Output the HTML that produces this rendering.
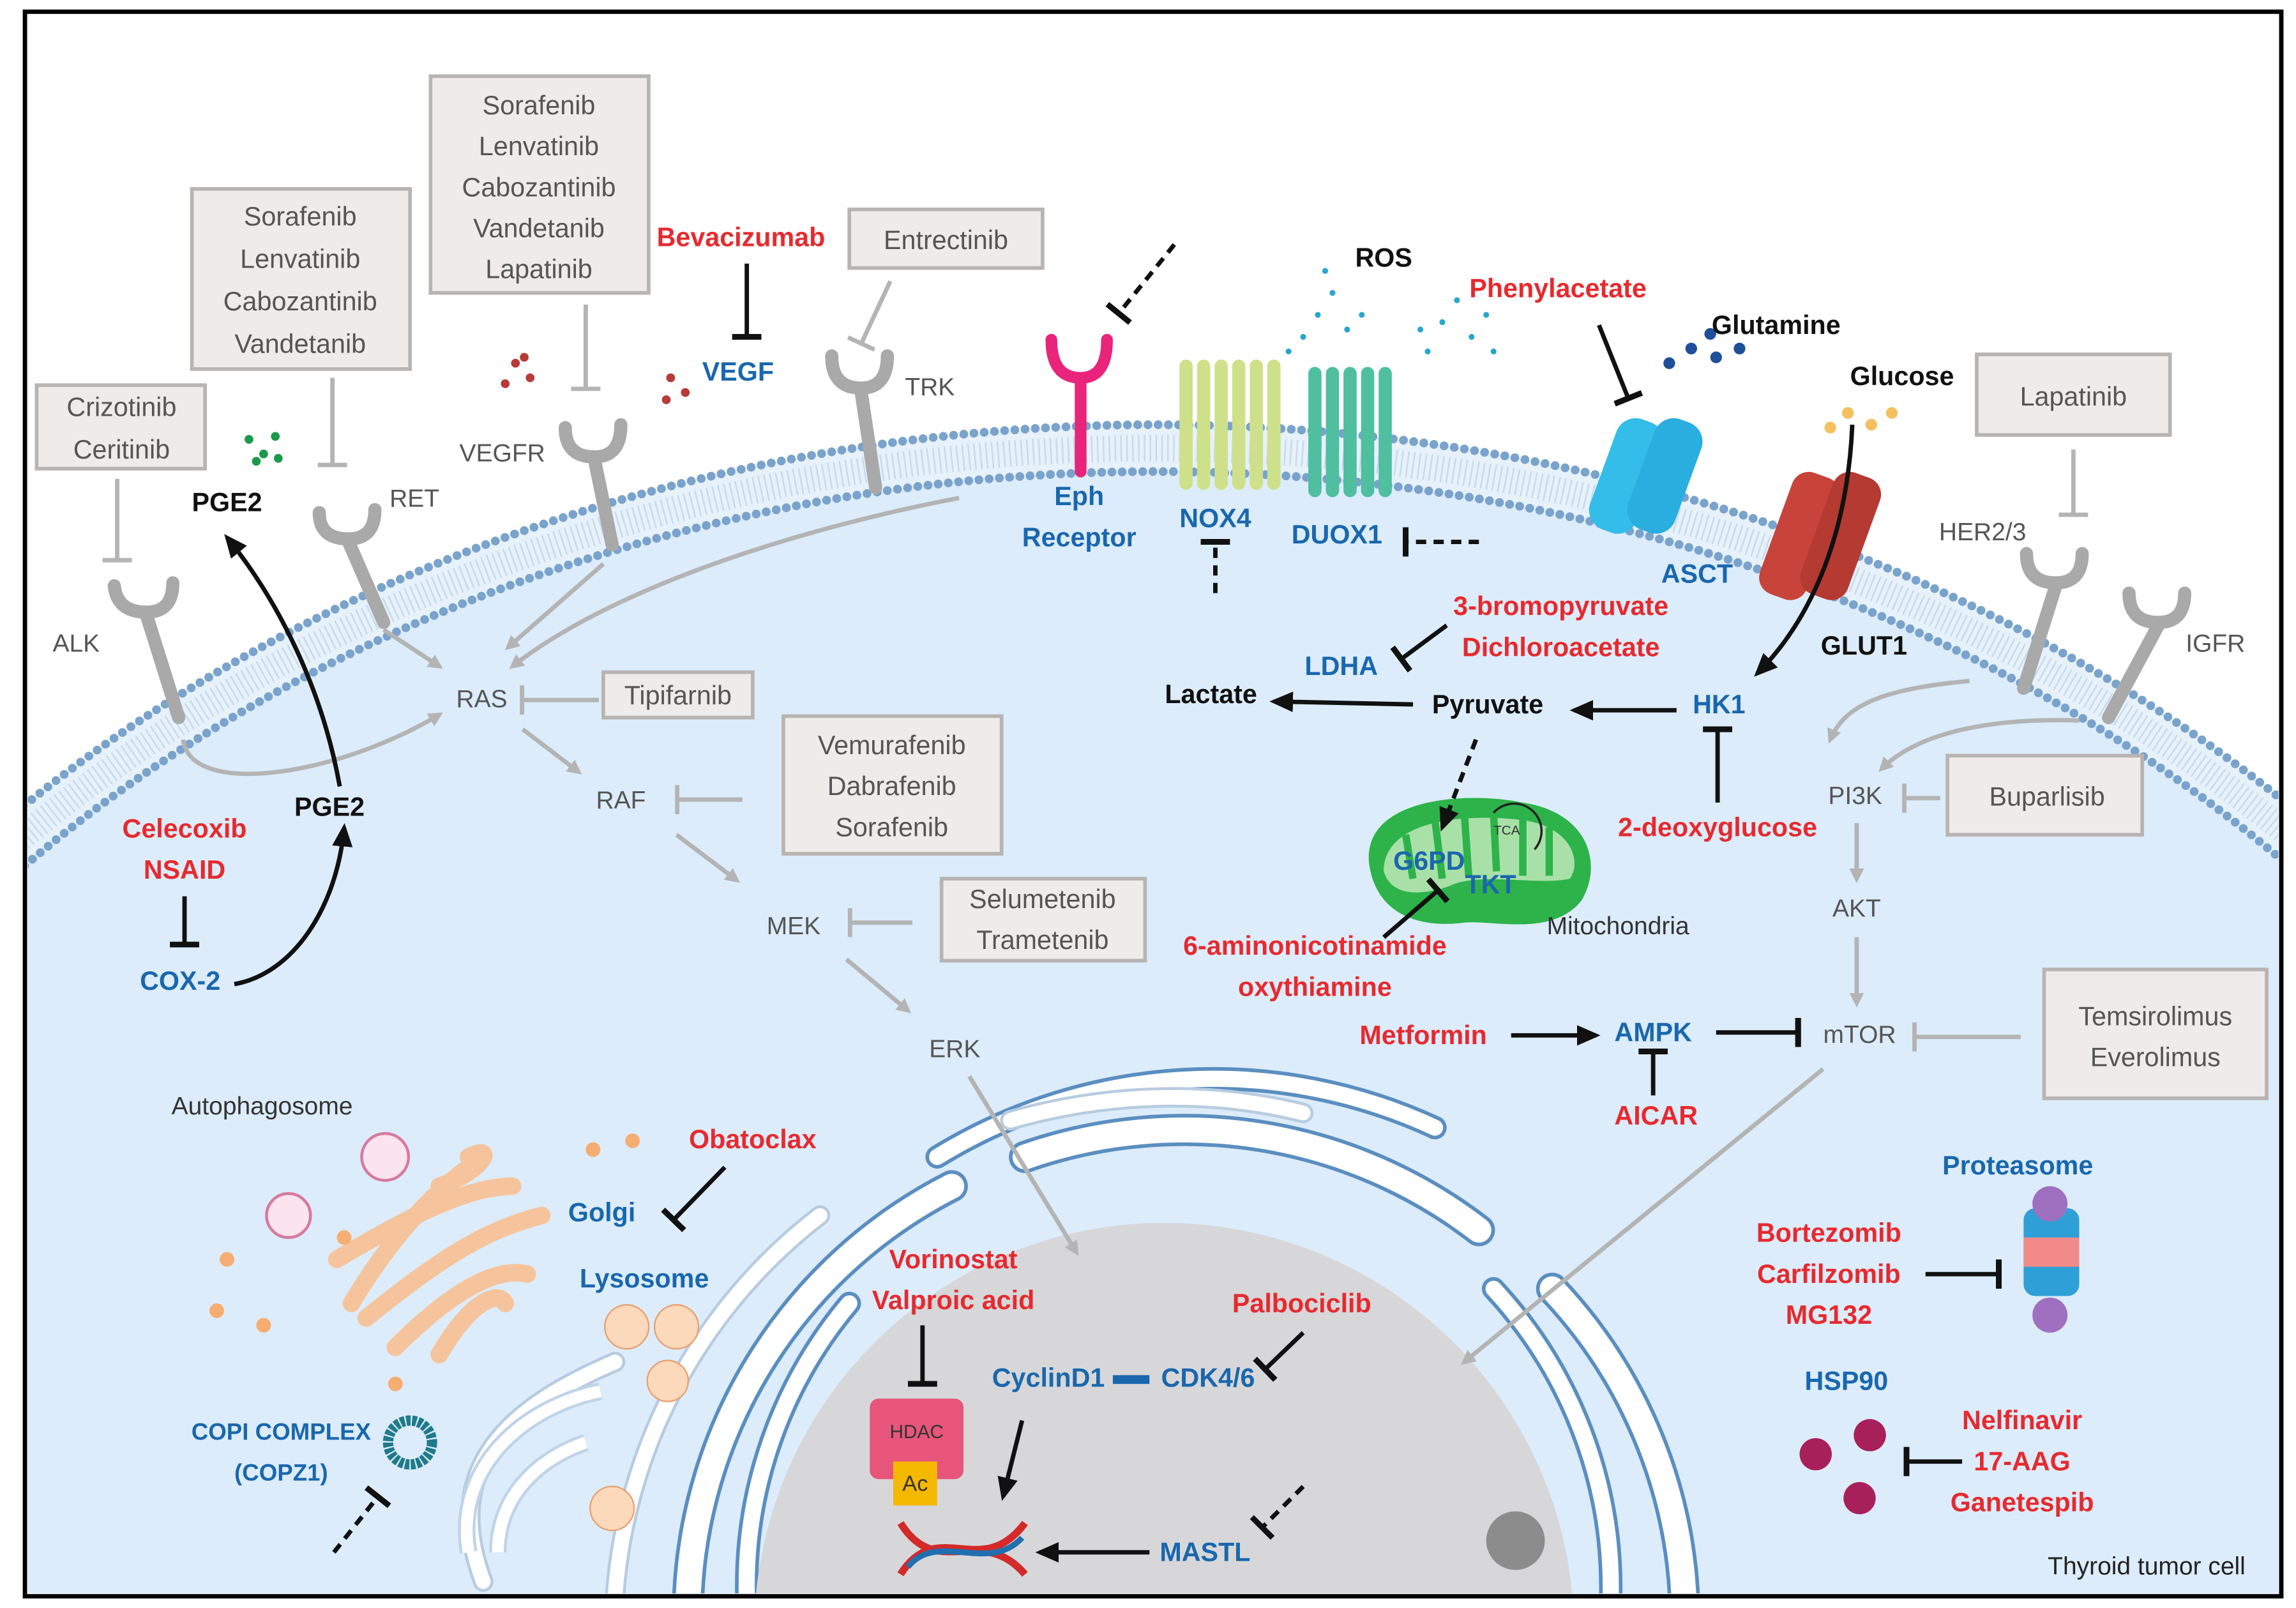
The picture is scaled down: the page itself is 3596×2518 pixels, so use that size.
<!DOCTYPE html>
<html><head><meta charset="utf-8"><style>html,body{margin:0;padding:0;background:#fff;width:3596px;height:2518px;overflow:hidden;position:relative}svg{display:block;position:absolute;left:0;top:0}
text{font-family:"Liberation Sans",sans-serif}
.g{fill:#555;font-size:17px}.r{fill:#e62a2f;font-size:18px;font-weight:bold}.b{fill:#1a67ad;font-size:18px;font-weight:bold}.k{fill:#111;font-size:18px;font-weight:bold}
.bx{fill:#efebe9;stroke:#b8b4b2;stroke-width:2.5}.bt{fill:#555;font-size:18px}
</style></head><body>
<svg width="3596" height="2518" viewBox="0 0 1568 1098" xmlns="http://www.w3.org/2000/svg">
<defs>
<marker id="ga" markerWidth="10" markerHeight="10" refX="7" refY="5" orient="auto" markerUnits="userSpaceOnUse"><path d="M0,0 L10,5 L0,10 z" fill="#b4b4b4"/></marker>
<marker id="ka" markerWidth="16" markerHeight="14" refX="13" refY="7" orient="auto" markerUnits="userSpaceOnUse"><path d="M0,0 L16,7 L0,14 z" fill="#111"/></marker>
<marker id="kb" markerWidth="4" markerHeight="20" refX="2" refY="10" orient="auto" markerUnits="userSpaceOnUse"><rect x="0" y="0" width="4" height="20" fill="#111"/></marker>
<marker id="gb" markerWidth="4" markerHeight="20" refX="2" refY="10" orient="auto" markerUnits="userSpaceOnUse"><rect x="0" y="0" width="3" height="20" fill="#b4b4b4"/></marker>
<clipPath id="c"><rect x="19" y="10" width="1537" height="1078"/></clipPath>
</defs>
<rect x="0" y="0" width="1568" height="1098" fill="#fff"/>
<g clip-path="url(#c)">
<ellipse cx="790" cy="1190" rx="1100" ry="900" fill="#e6f1fa"/>
<ellipse cx="790" cy="1190" rx="1100" ry="900" fill="none" stroke="#7aa3cc" stroke-width="6" stroke-dasharray="0 7" stroke-linecap="round"/>
<ellipse cx="790" cy="1190" rx="1068" ry="868" fill="#dcecfa" stroke="#7aa3cc" stroke-width="6" stroke-dasharray="0 7" stroke-linecap="round"/>
<ellipse cx="790" cy="1190" rx="1084" ry="884" fill="none" stroke="#c6d9ea" stroke-width="18" stroke-dasharray="1 3"/>
<g fill="none" stroke-linecap="round">
<path d="M470,1090 A330,330 0 0 1 650,810 M700,790 A330,330 0 0 1 1010,840 M1060,880 A330,330 0 0 1 1150,1090" stroke="#5b8ec0" stroke-width="22"/>
<path d="M470,1090 A330,330 0 0 1 650,810 M700,790 A330,330 0 0 1 1010,840 M1060,880 A330,330 0 0 1 1150,1090" stroke="#fff" stroke-width="17"/>
<path d="M510,1090 A300,300 0 0 1 580,890 M640,790 A360,360 0 0 1 980,770 M1020,880 A300,300 0 0 1 1100,1090" stroke="#5b8ec0" stroke-width="16"/>
<path d="M510,1090 A300,300 0 0 1 580,890 M640,790 A360,360 0 0 1 980,770 M1020,880 A300,300 0 0 1 1100,1090" stroke="#fff" stroke-width="11"/>
<path d="M420,1090 A360,360 0 0 1 560,830 M330,1080 C300,1000 350,960 420,930 M690,765 C760,745 830,745 890,760" stroke="#b8cce0" stroke-width="14"/>
<path d="M420,1090 A360,360 0 0 1 560,830 M330,1080 C300,1000 350,960 420,930 M690,765 C760,745 830,745 890,760" stroke="#fff" stroke-width="10"/>
</g>
<circle cx="795" cy="1115" r="280" fill="#d7d7d9"/>
<circle cx="1035" cy="1052" r="20" fill="#8c8c8c"/>
</g>
<rect x="17" y="8" width="1541" height="1082" fill="none" stroke="#000" stroke-width="3"/>

<g fill="none" stroke="#a9a9a9" stroke-width="9" stroke-linecap="round">
<path d="M78,400 Q80,418 100,418 Q118,418 118,398 M100,420 L122,490"/>
<path d="M218,350 Q218,368 238,368 Q256,368 256,348 M238,370 L262,425"/>
<path d="M386,292 Q386,312 406,312 Q424,312 424,290 M406,314 L418,372"/>
<path d="M568,243 Q568,265 588,265 Q606,265 606,243 M588,267 L598,333"/>
<path d="M1384,378 Q1384,398 1404,398 Q1422,398 1422,378 M1404,400 L1382,470"/>
<path d="M1454,405 Q1454,425 1474,425 Q1492,425 1492,405 M1474,427 L1440,490"/>
</g>
<path d="M718,232 Q718,258 738,258 Q756,258 756,232 M738,260 L738,322" fill="none" stroke="#e8247b" stroke-width="8" stroke-linecap="round"/>
<path d="M810,330 L810,250 M822,330 L822,250 M834,330 L834,250 M846,330 L846,250 M858,330 L858,250 M870,330 L870,250" stroke="#cfe08a" stroke-width="9" stroke-linecap="round"/>
<path d="M898,335 L898,255 M910,335 L910,255 M922,335 L922,255 M934,335 L934,255 M946,335 L946,255" stroke="#4fbfa0" stroke-width="9" stroke-linecap="round"/>
<rect x="1094" y="285" width="34" height="80" rx="14" fill="#33bde8" transform="rotate(20 1111 325)"/>
<rect x="1120" y="285" width="34" height="80" rx="14" fill="#2aaee0" transform="rotate(20 1137 325)"/>
<rect x="1212" y="322" width="34" height="88" rx="12" fill="#c8433a" transform="rotate(20 1229 366)"/>
<rect x="1240" y="322" width="34" height="88" rx="12" fill="#b43a32" transform="rotate(20 1257 366)"/>
<g fill="#2aa5cc"><circle cx="890" cy="230" r="2"/><circle cx="900" cy="215" r="2"/><circle cx="910" cy="200" r="2"/><circle cx="920" cy="225" r="2"/><circle cx="880" cy="240" r="2"/><circle cx="905" cy="185" r="2"/><circle cx="930" cy="215" r="2"/><circle cx="975" cy="240" r="2"/><circle cx="985" cy="220" r="2"/><circle cx="995" cy="205" r="2"/><circle cx="1005" cy="230" r="2"/><circle cx="1015" cy="215" r="2"/><circle cx="970" cy="225" r="2"/><circle cx="1020" cy="240" r="2"/></g>
<g fill="#1e4f9a"><circle cx="1140" cy="248" r="4"/><circle cx="1155" cy="238" r="4"/><circle cx="1172" cy="244" r="4"/><circle cx="1188" cy="238" r="4"/><circle cx="1168" cy="228" r="4"/></g>
<g fill="#f5c060"><circle cx="1250" cy="292" r="4"/><circle cx="1262" cy="282" r="4"/><circle cx="1278" cy="290" r="4"/><circle cx="1292" cy="282" r="4"/></g>
<g fill="#b83a3a"><circle cx="345" cy="262" r="3"/><circle cx="352" cy="248" r="3"/><circle cx="362" cy="258" r="3"/><circle cx="358" cy="244" r="3"/><circle cx="458" cy="258" r="3"/><circle cx="455" cy="273" r="3"/><circle cx="468" cy="268" r="3"/></g>
<g fill="#1a9a4a"><circle cx="170" cy="300" r="3"/><circle cx="180" cy="310" r="3"/><circle cx="188" cy="298" r="3"/><circle cx="175" cy="315" r="3"/><circle cx="190" cy="313" r="3"/></g>
<path d="M935,590 C930,545 1000,540 1040,548 C1085,555 1095,590 1080,615 C1060,640 1020,628 1000,630 C970,634 940,625 935,590 z" fill="#2db34a"/>
<path d="M945,595 C945,560 1000,555 1040,560 C1075,565 1080,590 1072,600 C1050,605 1010,595 990,605 C970,612 950,612 945,595 z" fill="#a8e0a8"/>
<path d="M960,570 L965,600 M980,560 L985,600 M1000,555 L1003,598 M1020,555 L1022,595 M1040,558 L1040,598 M1058,565 L1058,598" stroke="#2db34a" stroke-width="5"/>
<text x="1020" y="570" font-size="9" fill="#333">TCA</text>
<path d="M1020,555 A14,14 0 0 1 1048,580" fill="none" stroke="#222" stroke-width="1.5"/>
<g fill="none" stroke="#f6c49c" stroke-width="12" stroke-linecap="round">
<path d="M240,890 C270,840 300,810 330,790"/><path d="M230,860 C280,830 320,810 350,810"/><path d="M250,900 C300,860 330,840 370,830"/><path d="M270,920 C310,880 340,865 360,870"/><path d="M300,925 C320,890 340,880 345,890"/><path d="M300,810 C330,800 340,780 320,790"/></g>
<g fill="#f6ad72"><circle cx="155" cy="860" r="5"/><circle cx="148" cy="895" r="5"/><circle cx="180" cy="905" r="5"/><circle cx="405" cy="785" r="5"/><circle cx="432" cy="779" r="5"/><circle cx="270" cy="945" r="5"/><circle cx="235" cy="845" r="5"/></g>
<g fill="#fcd9bb" stroke="#e8a070"><circle cx="428" cy="906" r="15"/><circle cx="462" cy="906" r="15"/><circle cx="456" cy="943" r="14"/><circle cx="418" cy="1030" r="15"/></g>
<g fill="#fbe4ee" stroke="#d77aa0" stroke-width="2"><circle cx="263" cy="790" r="16"/><circle cx="197" cy="830" r="15"/></g>
<circle cx="280" cy="985" r="15" fill="none" stroke="#1f7a8a" stroke-width="7" stroke-dasharray="3 1"/>
<path d="M320,1060 C310,1000 360,960 410,950 M340,1060 C340,1020 370,995 400,985" fill="none" stroke="#c0d4e8" stroke-width="12"/>
<path d="M320,1060 C310,1000 360,960 410,950 M340,1060 C340,1020 370,995 400,985" fill="none" stroke="#fff" stroke-width="8"/>
<rect x="1382" y="825" width="38" height="60" rx="8" fill="#2f9fd8"/><rect x="1382" y="845" width="38" height="20" fill="#f28a8a"/>
<circle cx="1400" cy="822" r="12" fill="#a070c0"/><circle cx="1400" cy="898" r="12" fill="#a070c0"/>
<g fill="#a8205a"><circle cx="1240" cy="993" r="11"/><circle cx="1277" cy="980" r="11"/><circle cx="1270" cy="1023" r="11"/></g>
<rect x="594" y="955" width="64" height="55" rx="6" fill="#e8557a"/><text x="626" y="982" font-size="13" fill="#333" text-anchor="middle">HDAC</text>
<rect x="610" y="998" width="30" height="30" fill="#f5b800"/><text x="625" y="1018" font-size="15" fill="#333" text-anchor="middle">Ac</text>
<path d="M615,1040 C640,1080 670,1040 700,1075 M615,1075 C640,1035 670,1080 700,1040" fill="none" stroke="#d42a2a" stroke-width="5"/>
<path d="M620,1070 C640,1045 675,1075 698,1050" fill="none" stroke="#2070b0" stroke-width="4"/>

<rect class="bx" x="25" y="263" width="115" height="57"/><text class="bt" text-anchor="middle" x="83" y="284">Crizotinib</text><text class="bt" text-anchor="middle" x="83" y="313">Ceritinib</text>
<rect class="bx" x="131" y="129" width="149" height="123"/><text class="bt" text-anchor="middle" x="205" y="154">Sorafenib</text><text class="bt" text-anchor="middle" x="205" y="183">Lenvatinib</text><text class="bt" text-anchor="middle" x="205" y="212">Cabozantinib</text><text class="bt" text-anchor="middle" x="205" y="241">Vandetanib</text>
<rect class="bx" x="294" y="52" width="149" height="148"/><text class="bt" text-anchor="middle" x="368" y="78">Sorafenib</text><text class="bt" text-anchor="middle" x="368" y="106">Lenvatinib</text><text class="bt" text-anchor="middle" x="368" y="134">Cabozantinib</text><text class="bt" text-anchor="middle" x="368" y="162">Vandetanib</text><text class="bt" text-anchor="middle" x="368" y="190">Lapatinib</text>
<rect class="bx" x="580" y="143" width="132" height="40"/><text class="bt" text-anchor="middle" x="646" y="170">Entrectinib</text>
<rect class="bx" x="412" y="459" width="102" height="31"/><text class="bt" text-anchor="middle" x="463" y="481">Tipifarnib</text>
<rect class="bx" x="535" y="489" width="149" height="94"/><text class="bt" text-anchor="middle" x="609" y="515">Vemurafenib</text><text class="bt" text-anchor="middle" x="609" y="543">Dabrafenib</text><text class="bt" text-anchor="middle" x="609" y="571">Sorafenib</text>
<rect class="bx" x="643" y="600" width="139" height="56"/><text class="bt" text-anchor="middle" x="712" y="620">Selumetenib</text><text class="bt" text-anchor="middle" x="712" y="648">Trametenib</text>
<rect class="bx" x="1350" y="242" width="132" height="55"/><text class="bt" text-anchor="middle" x="1416" y="277">Lapatinib</text>
<rect class="bx" x="1330" y="516" width="133" height="54"/><text class="bt" text-anchor="middle" x="1398" y="550">Buparlisib</text>
<rect class="bx" x="1396" y="662" width="152" height="88"/><text class="bt" text-anchor="middle" x="1472" y="700">Temsirolimus</text><text class="bt" text-anchor="middle" x="1472" y="728">Everolimus</text>

<g fill="none" stroke="#b4b4b4" stroke-width="3">
<path d="M80,327 L80,383" marker-end="url(#gb)"/><path d="M227,258 L227,318" marker-end="url(#gb)"/><path d="M400,208 L400,266" marker-end="url(#gb)"/><path d="M608,192 L588,235" marker-end="url(#gb)"/><path d="M1416,307 L1416,352" marker-end="url(#gb)"/>
<path d="M409,478 L356,478" marker-end="url(#gb)"/><path d="M507,546 L462,546" marker-end="url(#gb)"/><path d="M623,630 L580,630" marker-end="url(#gb)"/><path d="M1325,545 L1300,545" marker-end="url(#gb)"/><path d="M1380,708 L1307,708" marker-end="url(#gb)"/>
<path d="M357,498 L395,527" marker-end="url(#ga)"/><path d="M462,570 L503,601" marker-end="url(#ga)"/><path d="M578,655 L620,690" marker-end="url(#ga)"/><path d="M662,735 L735,855" marker-end="url(#ga)"/>
<path d="M262,430 L300,455" marker-end="url(#ga)"/><path d="M412,385 L347,442" marker-end="url(#ga)"/><path d="M655,340 C550,360 420,400 350,455" marker-end="url(#ga)"/><path d="M125,505 C130,545 230,530 300,488" marker-end="url(#ga)"/>
<path d="M1345,465 C1290,470 1260,480 1250,505" marker-end="url(#ga)"/><path d="M1420,492 C1360,490 1310,500 1285,525" marker-end="url(#ga)"/>
<path d="M1268,562 L1268,600" marker-end="url(#ga)"/><path d="M1268,640 L1268,685" marker-end="url(#ga)"/><path d="M1245,730 L1000,930" marker-end="url(#ga)"/>
</g>
<g fill="none" stroke="#111" stroke-width="3">
<path d="M510,180 L510,230" marker-end="url(#kb)"/><path d="M802,167 L764,214" stroke-dasharray="7 5" marker-end="url(#kb)"/><path d="M830,405 L830,370" stroke-dasharray="7 5" marker-end="url(#kb)"/><path d="M1010,370 L960,370" stroke-dasharray="7 5" marker-end="url(#kb)"/>
<path d="M1092,222 L1112,272" marker-end="url(#kb)"/><path d="M988,427 L957,450" marker-end="url(#kb)"/>
<path d="M1145,485 L1075,485" marker-end="url(#ka)"/><path d="M965,481 L870,479" marker-end="url(#ka)"/><path d="M1008,505 L985,565" stroke-dasharray="7 5" marker-end="url(#ka)"/>
<path d="M1173,548 L1173,498" marker-end="url(#kb)"/><path d="M945,640 L982,608" marker-end="url(#kb)"/><path d="M1265,290 C1262,360 1240,420 1200,460" marker-end="url(#ka)"/>
<path d="M1032,707 L1090,707" marker-end="url(#ka)"/><path d="M1172,705 L1228,705" marker-end="url(#kb)"/><path d="M1129,748 L1129,718" marker-end="url(#kb)"/>
<path d="M126,612 L126,645" marker-end="url(#kb)"/><path d="M160,672 C200,665 230,620 235,565" marker-end="url(#ka)"/><path d="M232,537 C220,470 190,410 155,367" marker-end="url(#ka)"/>
<path d="M495,797 L460,833" marker-end="url(#kb)"/><path d="M630,905 L630,945" marker-end="url(#kb)"/><path d="M890,910 L864,935" marker-end="url(#kb)"/>
<path d="M698,970 L685,1022" marker-end="url(#ka)"/><path d="M785,1060 L710,1060" marker-end="url(#ka)"/><path d="M890,1015 L862,1043" stroke-dasharray="7 5" marker-end="url(#kb)"/>
<path d="M228,1060 L258,1022" stroke-dasharray="7 5" marker-end="url(#kb)"/><path d="M1315,870 L1365,870" marker-end="url(#kb)"/><path d="M1340,998 L1302,998" marker-end="url(#kb)"/>
</g>
<rect x="760" y="939" width="25" height="6" fill="#1a67ad"/>

<g text-anchor="middle">
<text class="r" x="506" y="168">Bevacizumab</text><text class="r" x="1064" y="203">Phenylacetate</text><text class="r" x="1066" y="420">3-bromopyruvate</text><text class="r" x="1066" y="448">Dichloroacetate</text><text class="r" x="1173" y="571">2-deoxyglucose</text><text class="r" x="898" y="652">6-aminonicotinamide</text><text class="r" x="898" y="680">oxythiamine</text><text class="r" x="972" y="713">Metformin</text><text class="r" x="1131" y="768">AICAR</text><text class="r" x="126" y="572">Celecoxib</text><text class="r" x="126" y="600">NSAID</text><text class="r" x="514" y="784">Obatoclax</text><text class="r" x="651" y="866">Vorinostat</text><text class="r" x="651" y="894">Valproic acid</text><text class="r" x="889" y="896">Palbociclib</text><text class="r" x="1249" y="848">Bortezomib</text><text class="r" x="1249" y="876">Carfilzomib</text><text class="r" x="1249" y="904">MG132</text><text class="r" x="1381" y="976">Nelfinavir</text><text class="r" x="1381" y="1004">17-AAG</text><text class="r" x="1381" y="1032">Ganetespib</text>
<text class="b" x="504" y="260">VEGF</text><text class="b" x="737" y="345">Eph</text><text class="b" x="737" y="373">Receptor</text><text class="b" x="830" y="360">NOX4</text><text class="b" x="913" y="371">DUOX1</text><text class="b" x="1159" y="398">ASCT</text><text class="b" x="916" y="461">LDHA</text><text class="b" x="1174" y="487">HK1</text><text class="b" x="1129" y="711">AMPK</text><text class="b" x="123" y="676">COX-2</text><text class="b" x="411" y="834">Golgi</text><text class="b" x="440" y="879">Lysosome</text><text class="b" x="192" y="983" style="font-size:16px">COPI COMPLEX</text><text class="b" x="192" y="1011" style="font-size:16px">(COPZ1)</text><text class="b" x="716" y="947">CyclinD1</text><text class="b" x="825" y="947">CDK4/6</text><text class="b" x="823" y="1066">MASTL</text><text class="b" x="1378" y="802">Proteasome</text><text class="b" x="1261" y="949">HSP90</text><text class="b" x="976" y="594" font-size="16">G6PD</text><text class="b" x="1018" y="610" font-size="16">TKT</text>
<text class="k" x="945" y="182">ROS</text><text class="k" x="1213" y="228">Glutamine</text><text class="k" x="1299" y="263">Glucose</text><text class="k" x="1273" y="447">GLUT1</text><text class="k" x="827" y="480">Lactate</text><text class="k" x="1016" y="487">Pyruvate</text><text class="k" x="155" y="349">PGE2</text><text class="k" x="225" y="557">PGE2</text>
<text class="g" x="635" y="270">TRK</text><text class="g" x="343" y="315">VEGFR</text><text class="g" x="283" y="346">RET</text><text class="g" x="52" y="445">ALK</text><text class="g" x="1354" y="369">HER2/3</text><text class="g" x="1513" y="445">IGFR</text><text class="g" x="329" y="483">RAS</text><text class="g" x="424" y="552">RAF</text><text class="g" x="542" y="638">MEK</text><text class="g" x="652" y="722">ERK</text><text class="g" x="1267" y="549">PI3K</text><text class="g" x="1268" y="626">AKT</text><text class="g" x="1270" y="712">mTOR</text>
<text x="1105" y="638" font-size="17" fill="#333">Mitochondria</text><text x="179" y="761" font-size="17" fill="#333">Autophagosome</text><text x="1466" y="1075" font-size="17" fill="#222">Thyroid tumor cell</text>
</g>
</svg>
</body></html>
